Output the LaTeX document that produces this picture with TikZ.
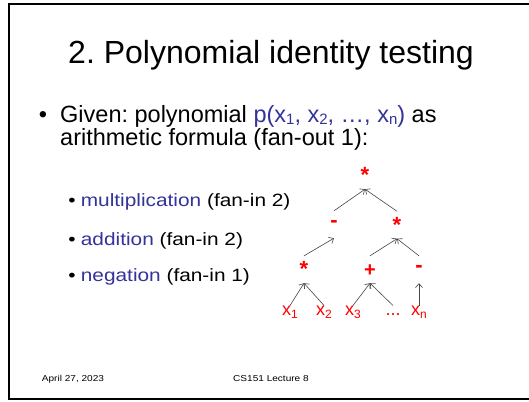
\documentclass[tikz,border=0pt]{standalone}
\usepackage{fontspec}
\setmainfont{Liberation Sans}
\newfontfamily\widefont[FakeStretch=1.17]{Liberation Sans}
\usetikzlibrary{arrows.meta}
\definecolor{pblue}{RGB}{51,51,153}
\definecolor{pred}{RGB}{255,0,0}
\definecolor{arrgray}{RGB}{70,70,70}
\newcommand\psub[3]{\raisebox{-#2}{\fontsize{#1}{#1}\selectfont #3}}
\frenchspacing
\begin{document}
\begin{tikzpicture}[x=1pt,y=-1pt,
  titletext/.style={font=\fontsize{32}{38}\selectfont, inner sep=0pt, anchor=base},
  bodytext/.style={font=\fontsize{23.5}{22.3}\selectfont, inner sep=0pt, anchor=base west},
  subtext/.style={font=\widefont\fontsize{17.8}{21}\selectfont, inner sep=0pt, anchor=base west},
  foottext/.style={font=\widefont\fontsize{8.6}{10}\selectfont, inner sep=0pt, anchor=base west},
  op/.style={text=pred, inner sep=0pt, minimum height=27pt, text depth=0pt},
  star/.style={op, font=\bfseries\fontsize{22}{22}\selectfont, text height=14.4pt},
  minus/.style={op, font=\bfseries\fontsize{22}{22}\selectfont, text height=6.8pt},
  plus/.style={op, font=\bfseries\fontsize{20}{20}\selectfont, text height=14.4pt},
  leaf/.style={text=pred, font=\fontsize{18}{18}\selectfont, inner sep=0pt, text height=9.3pt, text depth=0pt, anchor=base},
  arr/.style={draw=arrgray, line width=0.6pt, -{Straight Barb[length=4pt,width=7pt]}}
]
\useasboundingbox (0,0) rectangle (529,401);
\fill[white] (0,0) rectangle (529,401);
\draw[line width=2pt] (529,4) -- (9.3,4) -- (9.3,398.7) -- (529,398.7);

% title
\node[titletext] (title) at (271,64) {2. Polynomial identity testing};

% main bullet
\node[bodytext, anchor=base] (b0) at (43,122.7) {•};
\node[bodytext, align=left] (b1) at (60,145) {Given: polynomial \textcolor{pblue}{p(x\psub{15}{2pt}{1}, x\psub{15}{2pt}{2}, …, x\psub{15}{2pt}{n})} as\\arithmetic formula (fan-out 1):};

% sub bullets
\node[subtext, anchor=base] (s1b) at (72,206.7) {•};
\node[subtext] (s1) at (80.7,206.7) {\textcolor{pblue}{multiplication} (fan-in 2)};
\node[subtext, anchor=base] (s2b) at (72,245) {•};
\node[subtext] (s2) at (80.7,245) {\textcolor{pblue}{addition} (fan-in 2)};
\node[subtext, anchor=base] (s3b) at (72,281.7) {•};
\node[subtext] (s3) at (80.7,281.7) {\textcolor{pblue}{negation} (fan-in 1)};

% tree
\node[star] (t) at (365,175.5) {*};
\node[minus] (m) at (334,224.5) {-};
\node[star] (r) at (397,225) {*};
\node[star] (l) at (304,269.5) {*};
\node[plus] (p) at (370,269.5) {+};
\node[minus] (n) at (419,269.5) {-};
\node[leaf] (x1) at (290,315) {x\psub{12}{3pt}{1}};
\node[leaf] (x2) at (324,315) {x\psub{12}{3pt}{2}};
\node[leaf] (x3) at (353,315) {x\psub{12}{3pt}{3}};
\node[leaf] (dots) at (393,315) {...};
\node[leaf] (xn) at (419,315) {x\psub{12}{3pt}{n}};

\draw[arr] (x1.north) -- (l.south);
\draw[arr] (x2.north) -- (l.south);
\draw[arr] (x3.north) -- (p.south);
\draw[arr] (dots.north) -- (p.south);
\draw[arr] (xn.north) -- (n.south);
\draw[arr] (l.north) -- (m.south);
\draw[arr] (p.north) -- (r.south);
\draw[arr] (n.north) -- (r.south);
\draw[arr] (m.north) -- (t.south);
\draw[arr] (r.north) -- (t.south);

% footer
\node[foottext] (date) at (41.7,381.7) {April 27, 2023};
\node[foottext] (course) at (233,381.7) {CS151 Lecture 8};
\end{tikzpicture}
\end{document}
